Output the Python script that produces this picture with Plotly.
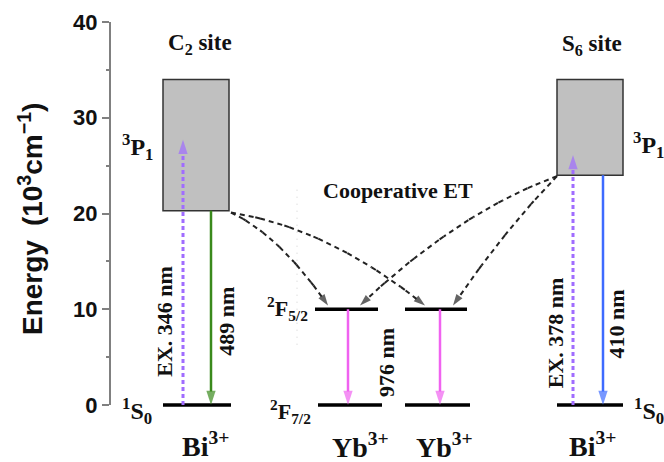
import plotly.graph_objects as go

# ---------------- data (energies in 10^3 cm^-1, x in schematic units) ----------------
# ground / lower levels: Bi(C2), Yb, Yb, Bi(S6)
ground_x0 = [163, 318, 405, 557]
ground_x1 = [231, 382, 470, 623]
ground_E = [0, 0, 0, 0]

# Yb3+ 2F5/2 levels
yb_up_x0 = [315, 405]
yb_up_x1 = [378, 467]
yb_up_E = [10, 10]

# Bi3+ 3P1 bands (C2 site, S6 site)
band_x0 = [163, 557]
band_x1 = [229, 623]
band_E0 = [20.3, 24.0]
band_E1 = [34.0, 34.0]

# vertical transitions
tr_x = [183, 211, 348, 440, 573, 603]
tr_from = [0, 20.3, 10, 10, 0, 24.0]
tr_to = [27.7, 0, 0, 0, 26.1, 0]
tr_color = ["#a06cff", "#3a8a1c", "#f062f0", "#f062f0", "#a06cff", "#3d6bff"]
tr_dash = ["4px,3px", "solid", "solid", "solid", "4px,3px", "solid"]

# cooperative energy transfer paths
et_x0 = [231, 231, 557, 557]
et_E0 = [20.1, 20.1, 23.9, 23.9]
et_x1 = [328, 425, 360, 453]
et_E1 = [10.4, 10.4, 10.4, 10.4]
et_bend = [2.5, 3.3, 3.0, 1.2]

# text labels
lab_text = ["C<sub>2</sub> site", "S<sub>6</sub> site",
            "<sup>3</sup>P<sub>1</sub>", "<sup>3</sup>P<sub>1</sub>",
            "<sup>1</sup>S<sub>0</sub>", "<sup>1</sup>S<sub>0</sub>",
            "<sup>2</sup>F<sub>5/2</sub>", "<sup>2</sup>F<sub>7/2</sub>",
            "Bi<sup>3+</sup>", "Yb<sup>3+</sup>", "Yb<sup>3+</sup>", "Bi<sup>3+</sup>",
            "Cooperative ET",
            "EX. 346 nm", "489 nm", "976 nm", "EX. 378 nm", "410 nm"]
lab_x = [200, 592, 137, 648, 137, 649, 287, 290, 205, 360, 444, 592, 398,
         165, 227, 387, 555, 617]
lab_E = [37.7, 37.6, 26.9, 27.2, -0.6, -0.6, 10.1, -0.7, -4.1, -4.2, -4.2, -4.1, 22.4,
         8.7, 8.7, 4.4, 7.5, 8.4]
lab_size = [23, 23, 24, 24, 24, 24, 22, 22, 28, 28, 28, 28, 22,
            22, 22, 22, 22, 22]
lab_angle = [0] * 13 + [-90] * 5

y_ticks = [0, 10, 20, 30, 40]
y_minor = [5, 15, 25, 35]

# ---------------- figure ----------------
fig = go.Figure()
serif = "Liberation Serif"

# bands (boxes)
for x0, x1, e0, e1 in zip(band_x0, band_x1, band_E0, band_E1):
    fig.add_shape(type="rect", xref="x", yref="y", x0=x0, x1=x1, y0=e0, y1=e1,
                  fillcolor="#c0c0c0", line=dict(color="#333333", width=1.5), layer="below")

# levels
for x0s, x1s, es in ((ground_x0, ground_x1, ground_E), (yb_up_x0, yb_up_x1, yb_up_E)):
    for x0, x1, e in zip(x0s, x1s, es):
        fig.add_trace(go.Scatter(x=[x0, x1], y=[e, e], mode="lines",
                                 line=dict(color="black", width=3.5),
                                 hoverinfo="skip", showlegend=False))

# faint dotted guide
fig.add_trace(go.Scatter(x=[297, 297], y=[6.3, 22.6], mode="lines",
                         line=dict(color="#cfcfcf", width=1, dash="1px,6px"),
                         hoverinfo="skip", showlegend=False))

# vertical transitions
for x, a, b, c, d in zip(tr_x, tr_from, tr_to, tr_color, tr_dash):
    fig.add_trace(go.Scatter(x=[x, x], y=[a, b], mode="lines+markers",
                             line=dict(color=c, width=2.5 if d == "solid" else 3, dash=d),
                             marker=dict(symbol="arrow", size=[0, 15], color=c,
                                         angleref="previous", line=dict(width=0)),
                             hoverinfo="skip", showlegend=False))

# energy transfer curves (quadratic Bezier)
N = 40
for x0, e0, x1, e1, bend in zip(et_x0, et_E0, et_x1, et_E1, et_bend):
    cx, ce = (x0 + x1) / 2, (e0 + e1) / 2 + bend
    xs, es = [], []
    for i in range(N + 1):
        t = i / N
        xs.append((1 - t) ** 2 * x0 + 2 * t * (1 - t) * cx + t ** 2 * x1)
        es.append((1 - t) ** 2 * e0 + 2 * t * (1 - t) * ce + t ** 2 * e1)
    sizes = [0] * N + [12]
    fig.add_trace(go.Scatter(x=xs, y=es, mode="lines+markers",
                             line=dict(color="#222222", width=2, dash="5px,4px"),
                             marker=dict(symbol="arrow", size=sizes, color="#222222",
                                         angleref="previous", line=dict(width=0)),
                             hoverinfo="skip", showlegend=False))

# labels
for t, x, e, s, a in zip(lab_text, lab_x, lab_E, lab_size, lab_angle):
    fig.add_annotation(x=x, y=e, xref="x", yref="y", text=t, showarrow=False,
                       xanchor="center", yanchor="middle", textangle=a,
                       font=dict(family=serif, size=s, color="#111111", weight="bold"))

# y axis line
fig.add_shape(type="line", xref="paper", yref="y", x0=0, x1=0, y0=0, y1=40,
              line=dict(color="#808080", width=2))

# y axis title
fig.add_annotation(x=-0.143, y=(19.4 + 5.95) / 45.95, xref="paper", yref="paper",
                   xanchor="center", yanchor="middle",
                   text="Energy\u2002(10<sup>3</sup>cm<sup>\u22121</sup>)", showarrow=False,
                   textangle=-90,
                   font=dict(family="Liberation Sans", size=28, color="#111111", weight="bold"))

fig.update_layout(
    width=664, height=462,
    margin=dict(l=110, r=0, t=22, b=0),
    paper_bgcolor="white", plot_bgcolor="white",
    xaxis=dict(range=[110, 664], visible=False, fixedrange=True),
    yaxis=dict(range=[-5.95, 40], tickvals=y_ticks, ticks="outside", ticklen=7,
               tickwidth=2, tickcolor="#808080", showgrid=False, zeroline=False,
               showline=False, fixedrange=True,
               tickfont=dict(family="Liberation Sans", size=22, color="#111111", weight="bold"),
               minor=dict(tickvals=y_minor, ticks="outside", ticklen=3, tickwidth=1.5,
                          tickcolor="#808080", showgrid=False)),
    showlegend=False,
)

fig.write_html("out.html", config={"displayModeBar": False},
               post_script="document.body.style.margin='0';document.body.style.overflow='hidden';")
